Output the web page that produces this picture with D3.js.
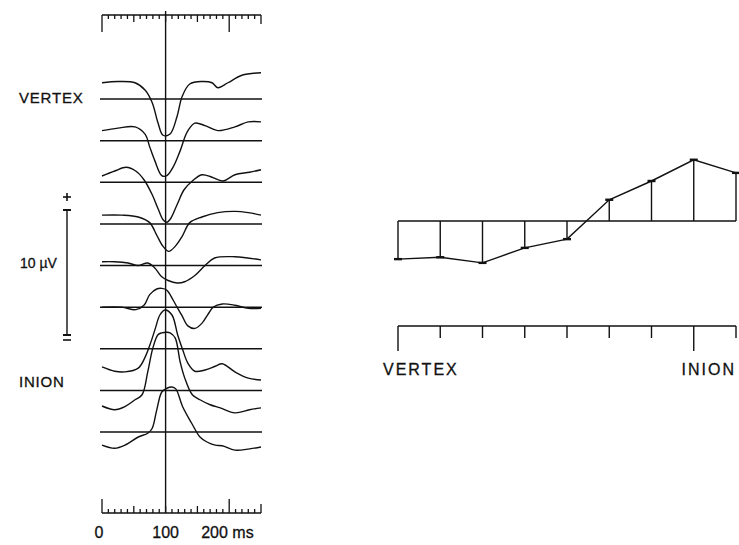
<!DOCTYPE html>
<html>
<head>
<meta charset="utf-8">
<script src="https://cdn.jsdelivr.net/npm/d3@7"></script>
<style>
  body { margin: 0; background: #fff; }
  svg text { font-family: "Liberation Sans", Arial, Helvetica, sans-serif; fill: #111; stroke: #111; stroke-width: 0.3; }
</style>
</head>
<body>
<div id="chart"></div>
<script>
// electrodes from vertex (1) to below inion (9)
const electrodes = [1, 2, 3, 4, 5, 6, 7, 8, 9];
const siteLabels = [{ e: 1, text: "VERTEX" }, { e: 8, text: "INION" }];
const timeLabels = ["0", "100", "200 ms"];
const timeLabelAt = [0, 100, 200];
const stimTime = 100;

// traces: [ms, µV]
const trace1 = [[0,1.3],[25,1.4],[52,1.3],[68,0.7],[79,-0.3],[88,-1.9],[96,-2.9],[107,-2.8],[118,-1.4],[126,0.2],[138,1.2],[157,1.4],[173,1.3],[182,0.9],[198,1.3],[220,1.9],[250,2.1]];
const trace2 = [[0,0.8],[25,1.0],[52,1.1],[68,0.5],[75,-0.5],[83,-1.6],[94,-2.8],[102,-2.8],[112,-2.1],[123,-0.8],[134,0.7],[146,1.4],[162,1.2],[182,0.8],[209,1.1],[230,1.5],[250,1.5]];
const trace3 = [[0,0.5],[20,0.9],[38,1.2],[53,0.9],[66,0.2],[79,-1.0],[88,-2.1],[96,-3.0],[102,-3.2],[108,-2.9],[118,-1.8],[129,-0.6],[142,0.1],[157,0.6],[173,0.4],[190,0.1],[209,0.6],[232,0.8],[250,1.0]];
const trace4 = [[0,0.7],[31,0.7],[57,0.55],[75,0.1],[86,-0.9],[96,-1.8],[105,-2.2],[115,-1.8],[126,-1.0],[138,0.1],[157,0.55],[182,0.9],[209,1.0],[230,0.9],[250,0.7]];
const trace5 = [[0,0.3],[20,0.3],[41,0.2],[57,0.0],[72,0.2],[83,-0.2],[94,-0.9],[104,-1.2],[118,-1.4],[130,-1.3],[146,-0.8],[162,0.0],[177,0.6],[209,0.7],[250,0.45]];
const trace6 = [[0,0],[31,0],[53,-0.2],[66,0.15],[75,1.0],[86,1.45],[94,1.5],[102,1.35],[112,0.55],[118,0],[126,-0.7],[135,-1.5],[146,-1.7],[157,-1.3],[167,-0.55],[175,0],[189,0.25],[209,0.15],[230,-0.1],[250,-0.1]];
const trace7 = [[0,-1.45],[20,-1.8],[36,-1.85],[57,-1.55],[68,-0.65],[77,0.55],[84,1.65],[91,2.7],[99,3.1],[110,2.7],[119,1.1],[127,-0.1],[135,-1.15],[146,-1.8],[162,-1.7],[178,-1.4],[189,-1.2],[209,-1.85],[230,-2.35],[250,-2.5]];
const trace8 = [[0,-1.25],[20,-1.55],[36,-1.3],[52,-0.75],[63,-0.35],[72,1.5],[80,3.4],[88,4.45],[94,4.6],[102,4.65],[107,4.6],[115,4.2],[123,2.25],[130,1.0],[142,-0.35],[154,-0.75],[170,-1.15],[186,-1.4],[209,-1.8],[232,-1.55],[250,-1.4]];
const trace9 = [[0,-1.05],[20,-1.3],[36,-1.05],[57,-0.4],[72,-0.1],[79,0.3],[86,1.75],[94,3.2],[102,3.5],[110,3.6],[116,3.45],[127,2.0],[141,0.7],[154,-0.4],[165,-0.8],[178,-1.05],[189,-1.1],[209,-1.45],[232,-1.35],[250,-1.2]];
const traces = [trace1, trace2, trace3, trace4, trace5, trace6, trace7, trace8, trace9];

// amplitude at 100 ms along the vertex-inion line (µV)
const peakAmp = [-3.05, -2.9, -3.35, -2.15, -1.45, 1.7, 3.2, 4.9, 3.85];

const scaleBarUV = 10;

const svg = d3.select("#chart").append("svg")
    .attr("width", 739)
    .attr("height", 545);

// ---- left panel: traces ----
const x = d3.scaleLinear().domain([0, 250]).range([102, 261]);
const row = d3.scalePoint().domain(electrodes).range([99, 432]);
const uv = 12.5; // px per µV

const line = d3.line()
    .x(d => x(d[0]))
    .curve(d3.curveCatmullRom.alpha(0.5));

// time ruler, top and bottom
function ruler(y0, dir) {
    const g = svg.append("g");
    g.append("line")
        .attr("x1", x(0)).attr("x2", x(250))
        .attr("y1", y0).attr("y2", y0)
        .attr("stroke", "#111").attr("stroke-width", 1.4);
    const ticks = d3.range(0, 251, 10);
    g.selectAll("line.t").data(ticks).enter().append("line")
        .attr("class", "t")
        .attr("x1", d => x(d)).attr("x2", d => x(d))
        .attr("y1", y0)
        .attr("y2", d => {
            let len = 4;
            if (d % 50 === 0) len = 7;
            if (d === 0 || d === 200) len = dir > 0 ? 17 : 14;
            if (d === 250) len = 9;
            return y0 + dir * len;
        })
        .attr("stroke", "#111").attr("stroke-width", 1.3);
    return g;
}
ruler(15, 1);
ruler(513, -1);

svg.selectAll("text.time").data(timeLabels).enter().append("text")
    .attr("class", "time")
    .attr("x", (d, i) => i === 2 ? x(timeLabelAt[i]) - 28 : x(timeLabelAt[i]) - (i === 0 ? 3 : 0))
    .attr("y", 538)
    .attr("text-anchor", (d, i) => i === 2 ? "start" : "middle")
    .attr("font-size", 16)
    .text(d => d);

// baselines
svg.selectAll("line.base").data(electrodes).enter().append("line")
    .attr("class", "base")
    .attr("x1", x(0) - 2).attr("x2", x(250) + 1)
    .attr("y1", d => row(d)).attr("y2", d => row(d))
    .attr("stroke", "#111").attr("stroke-width", 1.5);

// stimulus line
svg.append("line")
    .attr("x1", x(stimTime)).attr("x2", x(stimTime))
    .attr("y1", 11).attr("y2", 513)
    .attr("stroke", "#111").attr("stroke-width", 1.4);

// traces
svg.selectAll("path.trace").data(traces).enter().append("path")
    .attr("class", "trace")
    .attr("fill", "none")
    .attr("stroke", "#111")
    .attr("stroke-width", 1.4)
    .attr("d", (t, i) => line.y(d => row(electrodes[i]) - d[1] * uv)(t));

// site labels
svg.selectAll("text.site").data(siteLabels).enter().append("text")
    .attr("class", "site")
    .attr("x", 19)
    .attr("y", d => row(d.e) + (d.e === 1 ? 4 : -3))
    .attr("font-size", 15)
    .attr("letter-spacing", 0.8)
    .text(d => d.text);

// calibration bar
const barX = 67, barTop = 210;
const barBot = barTop + scaleBarUV * uv;
const cal = svg.append("g").attr("stroke", "#111").attr("stroke-width", 1.4);
cal.append("line").attr("x1", barX).attr("x2", barX).attr("y1", barTop).attr("y2", barBot);
cal.append("line").attr("x1", barX - 4).attr("x2", barX + 4).attr("y1", barTop).attr("y2", barTop).attr("stroke-width", 2);
cal.append("line").attr("x1", barX - 4).attr("x2", barX + 4).attr("y1", barBot).attr("y2", barBot).attr("stroke-width", 2);
cal.append("line").attr("x1", barX - 4).attr("x2", barX + 4).attr("y1", barBot + 5).attr("y2", barBot + 5).attr("stroke-width", 1.6);
cal.append("line").attr("x1", barX - 4).attr("x2", barX + 4).attr("y1", barTop - 13).attr("y2", barTop - 13).attr("stroke-width", 1.6);
cal.append("line").attr("x1", barX).attr("x2", barX).attr("y1", barTop - 17).attr("y2", barTop - 9).attr("stroke-width", 1.6);
svg.append("text")
    .attr("x", 20).attr("y", (barTop + barBot) / 2 - 5)
    .attr("font-size", 14)
    .text("10 \u00b5V");

// ---- right panel: amplitude distribution ----
const ex = d3.scalePoint().domain(electrodes).range([398, 736]);
const zeroY = 221;
const ay = d3.scaleLinear().domain([0, 1]).range([zeroY, zeroY - uv]);

const right = svg.append("g").attr("stroke", "#111");
right.append("line")
    .attr("x1", ex(1)).attr("x2", ex(9))
    .attr("y1", zeroY).attr("y2", zeroY)
    .attr("stroke-width", 1.7);
right.selectAll("line.stem").data(peakAmp).enter().append("line")
    .attr("class", "stem")
    .attr("x1", (d, i) => ex(electrodes[i])).attr("x2", (d, i) => ex(electrodes[i]))
    .attr("y1", zeroY).attr("y2", d => ay(d))
    .attr("stroke-width", 1.4);
right.append("path")
    .datum(peakAmp)
    .attr("fill", "none")
    .attr("stroke-width", 1.4)
    .attr("d", d3.line().x((d, i) => ex(electrodes[i])).y(d => ay(d)));
right.selectAll("line.cap").data(peakAmp).enter().append("line")
    .attr("class", "cap")
    .attr("x1", (d, i) => ex(electrodes[i]) - 4).attr("x2", (d, i) => ex(electrodes[i]) + 4)
    .attr("y1", d => ay(d)).attr("y2", d => ay(d))
    .attr("stroke-width", 2.4);

// electrode position axis
const axY = 326;
right.append("line")
    .attr("x1", ex(1)).attr("x2", ex(9))
    .attr("y1", axY).attr("y2", axY)
    .attr("stroke-width", 1.5);
right.selectAll("line.etick").data(electrodes).enter().append("line")
    .attr("class", "etick")
    .attr("x1", d => ex(d)).attr("x2", d => ex(d))
    .attr("y1", axY)
    .attr("y2", d => axY + (d === 1 || d === 8 ? 25 : 12))
    .attr("stroke-width", 1.4);

svg.selectAll("text.epos").data(siteLabels).enter().append("text")
    .attr("class", "epos")
    .attr("x", d => d.e === 1 ? 383 : 736)
    .attr("y", 375)
    .attr("text-anchor", d => d.e === 1 ? "start" : "end")
    .attr("font-size", 16)
    .attr("letter-spacing", 2)
    .text(d => d.text);
</script>
</body>
</html>
